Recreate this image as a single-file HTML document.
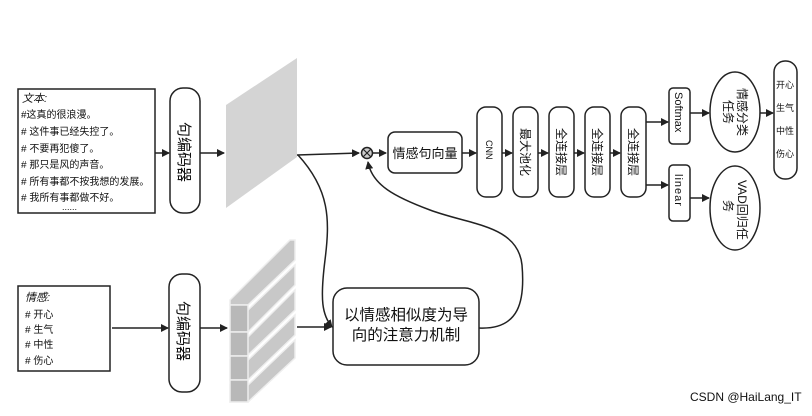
<!DOCTYPE html>
<html><head><meta charset="utf-8"><style>
body{margin:0;background:#fff}
svg{display:block}
text{font-family:"Liberation Sans","Noto Sans CJK SC",sans-serif;fill:#111}
</style></head><body>
<svg width="812" height="416" viewBox="0 0 812 416" xmlns="http://www.w3.org/2000/svg">
<defs>
<marker id="a" markerWidth="8" markerHeight="8" refX="7" refY="4" orient="auto" markerUnits="userSpaceOnUse">
<path d="M0,0 L8,4 L0,8 z" fill="#222"/></marker>
</defs>
<!-- gray panels -->
<polygon points="226,105 297,58 297,157 226,208" fill="#d4d4d4"/>
<g fill="#c8c8c8" stroke="#eee" stroke-width="1.5">
<polygon points="230,300 290,240 295,240 295,260 248,305 230,305"/>
<polygon points="230,310 248,310 295,265 295,285 248,332 230,332"/>
<polygon points="230,337 248,337 295,290 295,310 248,355 230,355"/>
<polygon points="230,360 248,360 295,315 295,335 248,380 230,380"/>
<polygon points="230,385 248,385 295,340 295,358 248,402 230,402"/>
</g>
<g fill="#b8b8b8" stroke="#eee" stroke-width="1.5">
<rect x="230" y="305" width="18" height="27"/>
<rect x="230" y="332" width="18" height="24"/>
<rect x="230" y="356" width="18" height="24"/>
<rect x="230" y="380" width="18" height="22"/>
</g>
<g stroke="#222" stroke-width="1.5" fill="none">
<rect x="18" y="89" width="137" height="124" fill="#fff"/>
<rect x="170" y="88" width="30" height="125" rx="13"/>
<rect x="18" y="286" width="92" height="85"/>
<rect x="169" y="274" width="31" height="118" rx="13"/>
<line x1="155" y1="153" x2="169" y2="153" marker-end="url(#a)"/>
<line x1="200" y1="153" x2="224" y2="153" marker-end="url(#a)"/>
<line x1="112" y1="328" x2="168" y2="328" marker-end="url(#a)"/>
<line x1="200" y1="328" x2="227" y2="328" marker-end="url(#a)"/>
<line x1="297" y1="327" x2="331" y2="327" marker-end="url(#a)"/>
<line x1="297" y1="155" x2="359" y2="153" marker-end="url(#a)"/>
<path d="M298,155 C330,190 330,220 325,260 C320,300 322,315 332,327" marker-end="url(#a)"/>
<path d="M479,328 C520,330 525,300 522,265 C518,225 470,225 430,210 C395,197 372,185 368,162" marker-end="url(#a)"/>
<line x1="373" y1="153" x2="386" y2="153" marker-end="url(#a)"/>
<rect x="333" y="288" width="146" height="77" rx="14"/>
<rect x="388" y="132" width="74" height="41" rx="7"/>
<line x1="462" y1="153" x2="476" y2="153" marker-end="url(#a)"/>
<rect x="477" y="107" width="25" height="90" rx="9"/>
<line x1="502" y1="153" x2="512" y2="153" marker-end="url(#a)"/>
<rect x="513" y="107" width="25" height="90" rx="9"/>
<line x1="538" y1="153" x2="548" y2="153" marker-end="url(#a)"/>
<rect x="549" y="107" width="25" height="90" rx="9"/>
<line x1="574" y1="153" x2="584" y2="153" marker-end="url(#a)"/>
<rect x="585" y="107" width="25" height="90" rx="9"/>
<line x1="610" y1="153" x2="620" y2="153" marker-end="url(#a)"/>
<rect x="621" y="107" width="25" height="90" rx="9"/>
<line x1="646" y1="122" x2="668" y2="122" marker-end="url(#a)"/>
<line x1="646" y1="185" x2="668" y2="185" marker-end="url(#a)"/>
<rect x="669" y="88" width="21" height="56" rx="4"/>
<rect x="669" y="165" width="21" height="56" rx="4"/>
<line x1="690" y1="113" x2="709" y2="113" marker-end="url(#a)"/>
<line x1="690" y1="198" x2="709" y2="198" marker-end="url(#a)"/>
<ellipse cx="735" cy="112" rx="25" ry="40"/>
<ellipse cx="735" cy="208" rx="25" ry="42"/>
<line x1="760" y1="113" x2="773" y2="113" marker-end="url(#a)"/>
<rect x="774" y="61" width="23" height="118" rx="11"/>
<circle cx="367" cy="153" r="5.5" fill="#ccc"/>
<path d="M363.5,149.5 L370.5,156.5 M370.5,149.5 L363.5,156.5" stroke-width="1.2"/>
</g>
<g font-size="10">
<text x="22" y="102" font-style="italic" font-size="11">文本:</text>
<text x="21" y="118">#这真的很浪漫。</text>
<text x="21" y="135"># 这件事已经失控了。</text>
<text x="21" y="152"># 不要再犯傻了。</text>
<text x="21" y="168"># 那只是风的声音。</text>
<text x="21" y="185"># 所有事都不按我想的发展。</text>
<text x="21" y="201"># 我所有事都做不好。</text>
<text x="62" y="210" font-size="9">......</text>
<text x="25" y="301" font-style="italic" font-size="11">情感:</text>
<text x="25" y="318"># 开心</text>
<text x="25" y="333"># 生气</text>
<text x="25" y="348"># 中性</text>
<text x="25" y="364"># 伤心</text>
</g>
<g font-size="15">
<text transform="translate(179,122) rotate(90)">句编码器</text>
<text transform="translate(178,301) rotate(90)">句编码器</text>
</g>
<text y="320" font-size="15.5" text-anchor="middle"><tspan x="406">以情感相似度为导</tspan><tspan x="406" dy="20">向的注意力机制</tspan></text>
<text x="425" y="158" font-size="13" text-anchor="middle">情感句向量</text>
<g font-size="12">
<text transform="translate(486,140) rotate(90)" font-size="9">CNN</text>
<text transform="translate(521,128) rotate(90)">最大池化</text>
<text transform="translate(557,128) rotate(90)">全连接层</text>
<text transform="translate(593,128) rotate(90)">全连接层</text>
<text transform="translate(629,128) rotate(90)">全连接层</text>
<text transform="translate(675,92) rotate(90)" font-size="11">Softmax</text>
<text transform="translate(675,174) rotate(90)" font-size="11" letter-spacing="1">linear</text>
<text transform="translate(738,88) rotate(90)">情感分类</text>
<text transform="translate(724,100) rotate(90)">任务</text>
<text transform="translate(738,180) rotate(90)">VAD回归任</text>
<text transform="translate(724,200) rotate(90)">务</text>
</g>
<g font-size="9" text-anchor="middle">
<text x="785" y="88">开心</text>
<text x="785" y="111">生气</text>
<text x="785" y="134">中性</text>
<text x="785" y="157">伤心</text>
</g>
<text x="690" y="401" font-size="12" fill="#555">CSDN @HaiLang_IT</text>
</svg>
</body></html>
